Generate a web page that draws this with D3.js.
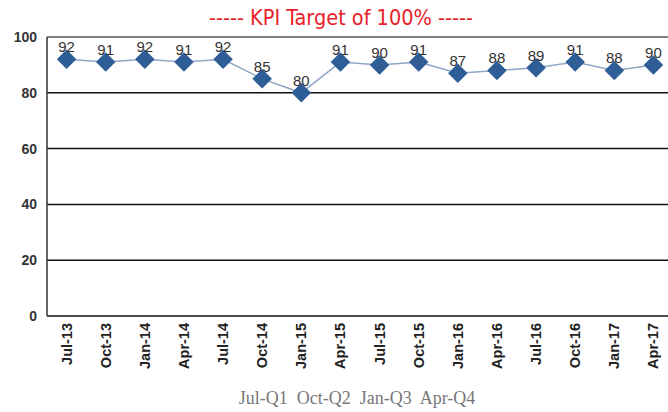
<!DOCTYPE html>
<html>
<head>
<meta charset="utf-8">
<script src="https://cdn.jsdelivr.net/npm/d3@7"></script>
<style>
  body { margin: 0; background: #fff; }
  svg { display: block; }
</style>
</head>
<body>
<div id="chart"></div>
<script>
// quarters shown on the x axis
const quarters = ['Jul-13', 'Oct-13', 'Jan-14', 'Apr-14', 'Jul-14', 'Oct-14', 'Jan-15', 'Apr-15',
  'Jul-15', 'Oct-15', 'Jan-16', 'Apr-16', 'Jul-16', 'Oct-16', 'Jan-17', 'Apr-17'];
// KPI values (%)
const kpiValues = [92, 91, 92, 91, 92, 85, 80, 91, 90, 91, 87, 88, 89, 91, 88, 90];
const yTicks = [0, 20, 40, 60, 80, 100];
const titleText = '----- KPI Target of 100% -----';
const legendText = 'Jul-Q1  Oct-Q2  Jan-Q3  Apr-Q4';

const width = 668, height = 412;
const margin = { top: 37, left: 47, bottom: 96 };
const plotRight = 673; // chart runs slightly past the window edge

const svg = d3.select('#chart').append('svg')
  .attr('width', width)
  .attr('height', height);

const x = d3.scaleBand()
  .domain(quarters)
  .range([margin.left, plotRight]);

const y = d3.scaleLinear()
  .domain([0, 100])
  .range([height - margin.bottom, margin.top]);

// Title
svg.append('text')
  .attr('x', 341)
  .attr('y', 25)
  .attr('text-anchor', 'middle')
  .attr('font-family', 'DejaVu Sans Condensed, sans-serif')
  .attr('font-size', 21.5)
  .attr('fill', '#e8212a')
  .text(titleText);

// Gridlines
svg.append('g')
  .selectAll('line')
  .data(yTicks)
  .enter()
  .append('line')
  .attr('x1', margin.left)
  .attr('x2', plotRight)
  .attr('y1', d => y(d))
  .attr('y2', d => y(d))
  .attr('stroke', d => d === 100 ? '#555' : '#111')
  .attr('stroke-width', 1.5);

// Left axis line
svg.append('line')
  .attr('x1', margin.left)
  .attr('x2', margin.left)
  .attr('y1', y(100))
  .attr('y2', y(0))
  .attr('stroke', '#333')
  .attr('stroke-width', 1.5);

// Y labels
svg.append('g')
  .selectAll('text')
  .data(yTicks)
  .enter()
  .append('text')
  .attr('x', margin.left - 10)
  .attr('y', d => y(d) + 5)
  .attr('text-anchor', 'end')
  .attr('font-family', 'Arial, Liberation Sans, sans-serif')
  .attr('font-size', 14)
  .attr('font-weight', 'bold')
  .attr('fill', '#333')
  .text(d => d);

// X labels (rotated)
svg.append('g')
  .selectAll('text')
  .data(quarters)
  .enter()
  .append('text')
  .attr('transform', d => `translate(${x(d) + x.bandwidth() / 2 + 5},${y(0) + 7}) rotate(-90)`)
  .attr('text-anchor', 'end')
  .attr('font-family', 'Arial, Liberation Sans, sans-serif')
  .attr('font-size', 14.5)
  .attr('font-weight', 'bold')
  .attr('fill', '#222')
  .text(d => d);

// Line
const line = d3.line()
  .x((d, i) => x(quarters[i]) + x.bandwidth() / 2)
  .y(d => y(d));

svg.append('path')
  .datum(kpiValues)
  .attr('d', line)
  .attr('fill', 'none')
  .attr('stroke', '#8fa6c6')
  .attr('stroke-width', 1.5);

// Diamond markers
svg.append('g')
  .selectAll('path')
  .data(kpiValues)
  .enter()
  .append('path')
  .attr('d', d3.symbol().type(d3.symbolSquare).size(190))
  .attr('transform', (d, i) => `translate(${x(quarters[i]) + x.bandwidth() / 2},${y(d)}) rotate(45)`)
  .attr('fill', '#2f5d95');

// Value labels
svg.append('g')
  .selectAll('text')
  .data(kpiValues)
  .enter()
  .append('text')
  .attr('x', (d, i) => x(quarters[i]) + x.bandwidth() / 2)
  .attr('y', d => y(d) - 7)
  .attr('text-anchor', 'middle')
  .attr('font-family', 'Arial, Liberation Sans, sans-serif')
  .attr('font-size', 15)
  .attr('fill', '#333')
  .text(d => d);

// Legend text under the chart
svg.append('text')
  .attr('x', 357)
  .attr('y', 404)
  .attr('text-anchor', 'middle')
  .attr('font-family', 'Liberation Serif, serif')
  .attr('font-size', 18)
  .attr('fill', '#777')
  .attr('xml:space', 'preserve')
  .style('white-space', 'pre')
  .text(legendText);
</script>
</body>
</html>
